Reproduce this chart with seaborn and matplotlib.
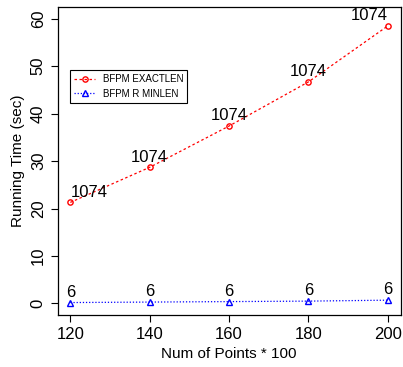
import matplotlib
matplotlib.use("Agg")
import matplotlib.pyplot as plt
import seaborn as sns

# data
points = [120, 140, 160, 180, 200]
exactlen_time = [21.3, 28.7, 37.4, 46.7, 58.5]
minlen_time = [0.2, 0.3, 0.4, 0.5, 0.7]
exactlen_labels = ["1074"] * 5
minlen_labels = ["6"] * 5

sns.set_style("white")
plt.rcParams["font.family"] = ["Liberation Sans", "DejaVu Sans"]
plt.rcParams["text.color"] = "black"
plt.rcParams["axes.labelcolor"] = "black"

fig = plt.figure(figsize=(4.03, 3.67), dpi=100)
ax = fig.add_axes([0.143, 0.142, 0.851, 0.838])

# red dashed circles, blue dotted triangles
sns.lineplot(x=points, y=exactlen_time, color="red", marker="o",
             markerfacecolor="none", markeredgecolor="red", markersize=3.8,
             markeredgewidth=1, linewidth=0.9, dashes=False,
             label="BFPM EXACTLEN", ax=ax)
ax.lines[-1].set_dashes((2, 2))
sns.lineplot(x=points, y=minlen_time, color="blue", marker="^",
             markerfacecolor="none", markeredgecolor="blue", markersize=4.5,
             markeredgewidth=1, linewidth=0.9,
             label="BFPM R MINLEN", ax=ax)
ax.lines[-1].set_dashes((1, 1.5))

# point labels
for i, (x, y, lab) in enumerate(zip(points, exactlen_time, exactlen_labels)):
    ha = "left" if i == 0 else ("right" if i == len(points) - 1 else "center")
    ax.annotate(lab, (x, y), xytext=(0, 2), textcoords="offset points",
                ha=ha, va="bottom", fontsize=12)
for x, y, lab in zip(points, minlen_time, minlen_labels):
    ax.annotate(lab, (x, y), xytext=(0, 2), textcoords="offset points",
                ha="center", va="bottom", fontsize=12)

ax.set_xlim(116.8, 203.2)
ax.set_ylim(-2.4, 62.4)
ax.set_xticks(points)
ax.set_yticks([0, 10, 20, 30, 40, 50, 60])
ax.tick_params(axis="both", direction="out", length=5, width=0.8,
               labelsize=12, colors="black", bottom=True, left=True)
for t in ax.get_yticklabels():
    t.set_rotation(90)
    t.set_va("center")
for s in ax.spines.values():
    s.set_color("black")
    s.set_linewidth(0.9)

ax.set_xlabel("Num of Points * 100", fontsize=11)
ax.set_ylabel("Running Time (sec)", fontsize=11)

leg = ax.legend(loc="upper left", bbox_to_anchor=(0.036, 0.796),
                borderaxespad=0, fontsize=7, frameon=True, fancybox=False,
                edgecolor="black", framealpha=1, handlelength=2.2)
leg.get_frame().set_linewidth(0.8)

fig.savefig("out.png", dpi=100)
